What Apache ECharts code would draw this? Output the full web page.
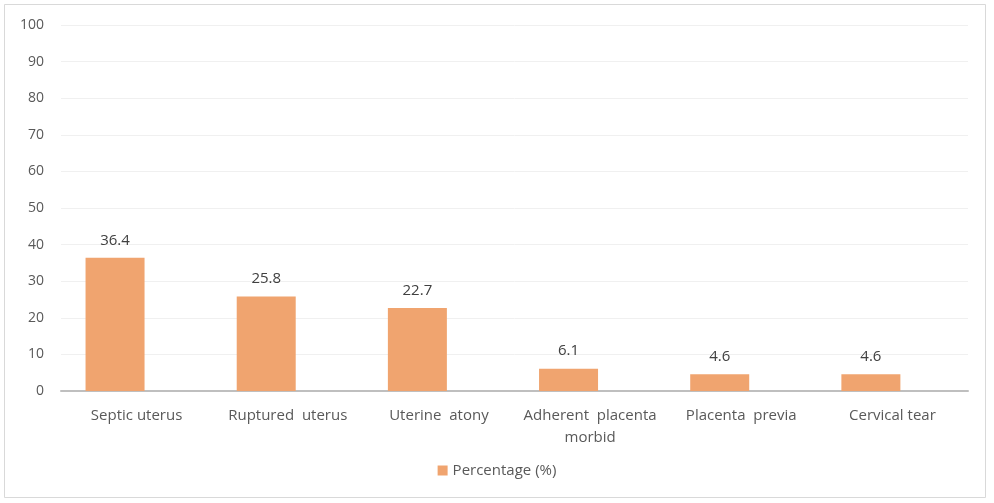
<!DOCTYPE html>
<html>
<head>
<meta charset="utf-8">
<script src="https://cdn.jsdelivr.net/npm/echarts@6/dist/echarts.min.js"></script>
<style>
  html, body { margin: 0; padding: 0; background: #fff; }
  #chart { width: 994px; height: 503px; }
</style>
</head>
<body>
<div id="chart"></div>
<script>
var categories = ['Septic uterus', 'Ruptured  uterus', 'Uterine  atony', 'Adherent  placenta\nmorbid', 'Placenta  previa', 'Cervical tear'];
var percentages = [36.4, 25.8, 22.7, 6.1, 4.6, 4.6];
var seriesName = 'Percentage (%)';

var chart = echarts.init(document.getElementById('chart'));

var option = {
    backgroundColor: '#fff',
    textStyle: { fontFamily: 'Open Sans, sans-serif' },
    graphic: [{
        type: 'rect',
        shape: { x: 4.5, y: 4.5, width: 981, height: 493 },
        style: { fill: 'none', stroke: '#d9d9d9', lineWidth: 1 },
        silent: true
    }],
    legend: {
        bottom: 20,
        left: 'center',
        itemWidth: 10,
        itemHeight: 10,
        icon: 'rect',
        textStyle: { color: '#595959', fontSize: 15 },
        data: [seriesName]
    },
    grid: {
        left: 61,
        right: 26,
        top: 25,
        bottom: 112
    },
    xAxis: {
        type: 'category',
        data: categories,
        axisLine: { lineStyle: { color: '#bfbfbf', width: 2 } },
        axisTick: { show: false },
        axisLabel: { color: '#595959', fontSize: 15, margin: 14, lineHeight: 22, interval: 0 }
    },
    yAxis: {
        type: 'value',
        min: 0,
        max: 100,
        interval: 10,
        axisLine: { show: false },
        axisTick: { show: false },
        axisLabel: { color: '#595959', fontSize: 14, margin: 17 },
        splitLine: { lineStyle: { color: '#f0f0f0' } }
    },
    series: [{
        name: seriesName,
        type: 'bar',
        data: percentages,
        barWidth: 59,
        barGap: '-27%',
        itemStyle: { color: '#f0a46f' },
        label: {
            show: true,
            position: 'top',
            distance: 10,
            color: '#404040',
            fontSize: 15
        }
    }, {
        // empty companion series, shifts the visible bars left like the original
        name: 'spacer',
        type: 'bar',
        data: [],
        barWidth: 59,
        silent: true
    }]
};

chart.setOption(option);
</script>
</body>
</html>
